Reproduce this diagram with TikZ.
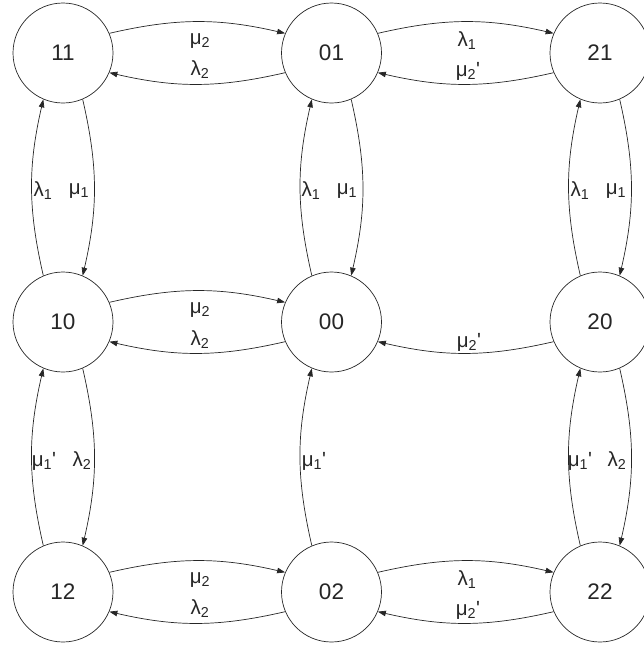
\documentclass[tikz,border=0pt]{standalone}
\usepackage{fontspec}
\setmainfont{Liberation Sans}
\usetikzlibrary{arrows.meta}
\newcommand{\pr}{\textquotesingle}
\begin{document}
\begin{tikzpicture}[x=1pt,y=-1pt,
  state/.style={circle,draw=black!85,line width=0.7pt,minimum size=100pt,inner sep=0pt,
    font=\fontsize{22.5}{26}\selectfont,text=black!85},
  tr/.style={draw=black!85,line width=0.7pt,-{Triangle[length=8pt,width=5.5pt]}},
  lab/.style={font=\fontsize{20.5}{24}\selectfont,text=black!85,inner sep=0pt}]
\useasboundingbox (0,0) rectangle (643,648);
\node[state] (s11) at (63,53) {11};
\node[state] (s01) at (331.5,53) {01};
\node[state] (s21) at (600,53) {21};
\node[state] (s10) at (63,322) {10};
\node[state] (s00) at (331.5,322) {00};
\node[state] (s20) at (600,322) {20};
\node[state] (s12) at (63,592) {12};
\node[state] (s02) at (331.5,592) {02};
\node[state] (s22) at (600,592) {22};
% horizontal
\draw[tr] (s11.23) to[bend left=13] (s01.157);
\draw[tr] (s01.203) to[bend left=13] (s11.337);
\draw[tr] (s01.23) to[bend left=13] (s21.157);
\draw[tr] (s21.203) to[bend left=13] (s01.337);
\draw[tr] (s10.23) to[bend left=13] (s00.157);
\draw[tr] (s00.203) to[bend left=13] (s10.337);
\draw[tr] (s20.203) to[bend left=13] (s00.337);
\draw[tr] (s12.23) to[bend left=13] (s02.157);
\draw[tr] (s02.203) to[bend left=13] (s12.337);
\draw[tr] (s02.23) to[bend left=13] (s22.157);
\draw[tr] (s22.203) to[bend left=13] (s02.337);
% vertical
\draw[tr] (s10.113) to[bend left=13] (s11.247);
\draw[tr] (s11.293) to[bend left=13] (s10.67);
\draw[tr] (s00.113) to[bend left=13] (s01.247);
\draw[tr] (s01.293) to[bend left=13] (s00.67);
\draw[tr] (s20.113) to[bend left=13] (s21.247);
\draw[tr] (s21.293) to[bend left=13] (s20.67);
\draw[tr] (s12.113) to[bend left=13] (s10.247);
\draw[tr] (s10.293) to[bend left=13] (s12.67);
\draw[tr] (s02.113) to[bend left=13] (s00.247);
\draw[tr] (s22.113) to[bend left=13] (s20.247);
\draw[tr] (s20.293) to[bend left=13] (s22.67);
% labels horizontal
\node[lab] (l1) at (200,41) {μ\textsubscript{2}};
\node[lab] (l2) at (200,70) {λ\textsubscript{2}};
\node[lab] (l3) at (467,41) {λ\textsubscript{1}};
\node[lab] (l4) at (468,71) {μ\textsubscript{2}\pr};
\node[lab] (l5) at (200,310) {μ\textsubscript{2}};
\node[lab] (l6) at (200,340) {λ\textsubscript{2}};
\node[lab] (l7) at (469,342) {μ\textsubscript{2}\pr};
\node[lab] (l8) at (200,580) {μ\textsubscript{2}};
\node[lab] (l9) at (200,609) {λ\textsubscript{2}};
\node[lab] (l10) at (467,580) {λ\textsubscript{1}};
\node[lab] (l11) at (468,610) {μ\textsubscript{2}\pr};
% labels vertical
\node[lab] (v1) at (43,191) {λ\textsubscript{1}};
\node[lab] (v2) at (79,191) {μ\textsubscript{1}};
\node[lab] (v3) at (311,191) {λ\textsubscript{1}};
\node[lab] (v4) at (347,191) {μ\textsubscript{1}};
\node[lab] (v5) at (580,191) {λ\textsubscript{1}};
\node[lab] (v6) at (616,191) {μ\textsubscript{1}};
\node[lab] (v7) at (44,461) {μ\textsubscript{1}\pr};
\node[lab] (v8) at (82,461) {λ\textsubscript{2}};
\node[lab] (v9) at (314,461) {μ\textsubscript{1}\pr};
\node[lab] (v10) at (580,461) {μ\textsubscript{1}\pr};
\node[lab] (v11) at (617,461) {λ\textsubscript{2}};
\end{tikzpicture}
\end{document}
